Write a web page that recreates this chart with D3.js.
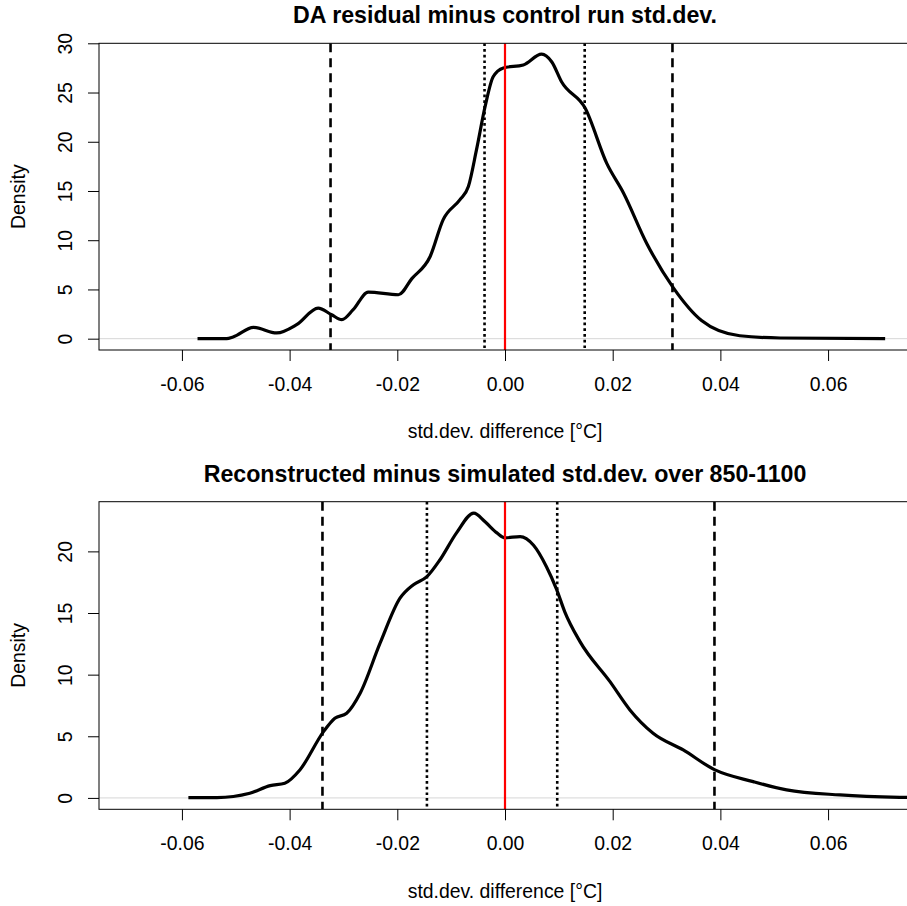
<!DOCTYPE html>
<html>
<head>
<meta charset="utf-8">
<script src="https://cdn.jsdelivr.net/npm/d3@7"></script>
<style>
  body { margin: 0; background: #fff; }
  text { font-family: "Liberation Sans", Arial, sans-serif; fill: #000; }
</style>
</head>
<body>
<div id="container"></div>
<script>
// ---- data ----
var titles = ["DA residual minus control run std.dev.",
              "Reconstructed minus simulated std.dev. over 850-1100"]
var xLabel = "std.dev. difference [°C]"
var yLabel = "Density"
var xTicks = [-0.06, -0.04, -0.02, 0.00, 0.02, 0.04, 0.06]
var yTicks1 = [0, 5, 10, 15, 20, 25, 30]
var yTicks2 = [0, 5, 10, 15, 20]

// panel 1 density curve
var x1 = [-0.0571, -0.0517, -0.0505, -0.0467, -0.0424, -0.0387, -0.0347, -0.0322, -0.0303,
          -0.0282, -0.0254, -0.0198, -0.0173, -0.0139, -0.0115, -0.0084, -0.0068, -0.0053,
          -0.0037, -0.0022, -0.0003, 0.0034, 0.0068, 0.0087, 0.0105, 0.0149, 0.0189,
          0.0220, 0.0263, 0.0313, 0.0365, 0.0436, 0.0511, 0.0706]
var d1 = [0, 0.01, 0.17, 1.15, 0.58, 1.42, 3.11, 2.43, 1.93,
          2.94, 4.73, 4.46, 6.1, 8.35, 12.07, 14.1, 15.45, 19.17,
          23.56, 26.6, 27.5, 27.8, 28.9, 28.1, 26.1, 23.4, 17.8,
          14.8, 9.7, 5.14, 1.85, 0.3, 0.07, 0]
// panel 2 density curve
var x2 = [-0.0588, -0.0535, -0.0474, -0.0436, -0.0409, -0.0381, -0.0337, -0.0316, -0.0294,
          -0.0269, -0.0232, -0.0195, -0.0170, -0.0145, -0.0121, -0.0090, -0.0058, -0.0037,
          -0.0015, 0.0, 0.0028, 0.0053, 0.0077, 0.0096, 0.0111, 0.0139, 0.0195, 0.0232,
          0.0275, 0.0331, 0.0390, 0.0461, 0.0523, 0.0622, 0.0733, 0.0800]
var d2 = [0.03, 0.03, 0.38, 1.0, 1.19, 2.27, 5.38, 6.46, 6.87,
          8.49, 12.55, 16.2, 17.3, 17.95, 19.3, 21.5, 23.1, 22.4,
          21.5, 21.1, 21.2, 20.5, 18.76, 16.9, 15.1, 12.7, 9.43, 7.14,
          5.25, 3.89, 2.27, 1.32, 0.65, 0.24, 0.05, 0.02]

// quantile lines
var dashed1 = [-0.0324, 0.0311]
var dotted1 = [-0.0038, 0.0148]
var dashed2 = [-0.0339, 0.0389]
var dotted2 = [-0.0145, 0.0097]

var W = 907, H = 906

var svg = d3.select('#container').append('svg')
  .attr('width', W)
  .attr('height', H)

var x = d3.scaleLinear().domain([-0.0754, 0.0754]).range([99, 911])

function drawPanel(p) {
  var y = d3.scaleLinear().domain(p.yDomain).range([p.bottom, p.top])
  var g = svg.append('g')

  g.append('clipPath').attr('id', 'clip' + p.id)
    .append('rect')
    .attr('x', x.range()[0]).attr('y', p.top)
    .attr('width', x.range()[1] - x.range()[0]).attr('height', p.bottom - p.top)

  var plot = g.append('g').attr('clip-path', 'url(#clip' + p.id + ')')

  // zero line
  plot.append('line')
    .attr('x1', x.range()[0]).attr('x2', x.range()[1])
    .attr('y1', y(0)).attr('y2', y(0))
    .attr('stroke', '#d6d6d6').attr('stroke-width', 1)

  var pts = p.xs.map(function (v, i) { return [v, p.ds[i]] })
  plot.append('path')
    .datum(pts)
    .attr('d', d3.line().x(d => x(d[0])).y(d => y(d[1])).curve(d3.curveMonotoneX))
    .attr('fill', 'none')
    .attr('stroke', '#000')
    .attr('stroke-width', 3.2)
    .attr('stroke-linejoin', 'round')

  function vlines(vals, dash, color, width) {
    plot.selectAll(null)
      .data(vals)
      .enter().append('line')
      .attr('x1', d => x(d)).attr('x2', d => x(d))
      .attr('y1', p.top).attr('y2', p.bottom)
      .attr('stroke', color)
      .attr('stroke-width', width)
      .attr('stroke-dasharray', dash)
  }
  vlines(p.dashed, '9,6', '#000', 2.6)
  vlines(p.dotted, '2.7,3', '#000', 2.6)
  vlines([0], null, '#ff0000', 2.2)

  // box (right side falls outside the window)
  g.append('rect')
    .attr('x', x.range()[0]).attr('y', p.top)
    .attr('width', x.range()[1] - x.range()[0]).attr('height', p.bottom - p.top)
    .attr('fill', 'none').attr('stroke', '#000').attr('stroke-width', 1)

  // x axis
  var xa = g.append('g')
    .attr('transform', 'translate(0,' + p.bottom + ')')
    .call(d3.axisBottom(x).tickValues(xTicks).tickSize(11).tickPadding(16)
      .tickFormat(d3.format('.2f')))
  xa.select('.domain').remove()
  xa.selectAll('.tick line').attr('stroke', '#000')
  xa.selectAll('text').attr('font-size', 19.4).attr('fill', '#000')
    .text(d => d3.format('.2f')(d).replace('−', '-'))

  // y axis
  var ya = g.append('g')
    .attr('transform', 'translate(' + x.range()[0] + ',0)')
    .call(d3.axisLeft(y).tickValues(p.yTicks).tickSize(11))
  ya.select('.domain').remove()
  ya.selectAll('.tick line').attr('stroke', '#000')
  ya.selectAll('text')
    .attr('font-size', 19.4).attr('fill', '#000')
    .attr('x', 0).attr('y', -27).attr('dy', null)
    .attr('text-anchor', 'middle')
    .attr('transform', 'rotate(-90)')

  // labels
  g.append('text')
    .attr('x', 505).attr('y', p.titleY)
    .attr('text-anchor', 'middle')
    .attr('font-size', 23.2).attr('font-weight', 'bold')
    .text(p.title)
  g.append('text')
    .attr('x', 505).attr('y', p.xLabY)
    .attr('text-anchor', 'middle')
    .attr('font-size', 19.4)
    .text(xLabel)
  g.append('text')
    .attr('transform', 'translate(25,' + ((p.top + p.bottom) / 2) + ') rotate(-90)')
    .attr('text-anchor', 'middle')
    .attr('font-size', 19.4)
    .text(yLabel)
}

drawPanel({ id: 1, title: titles[0], xs: x1, ds: d1, yDomain: [-1.15, 30.0], top: 43.3, bottom: 350,
  yTicks: yTicks1, dashed: dashed1, dotted: dotted1, titleY: 23, xLabY: 438 })
drawPanel({ id: 2, title: titles[1], xs: x2, ds: d2, yDomain: [-0.924, 24.03], top: 501.7, bottom: 809.3,
  yTicks: yTicks2, dashed: dashed2, dotted: dotted2, titleY: 482, xLabY: 898 })
</script>
</body>
</html>
